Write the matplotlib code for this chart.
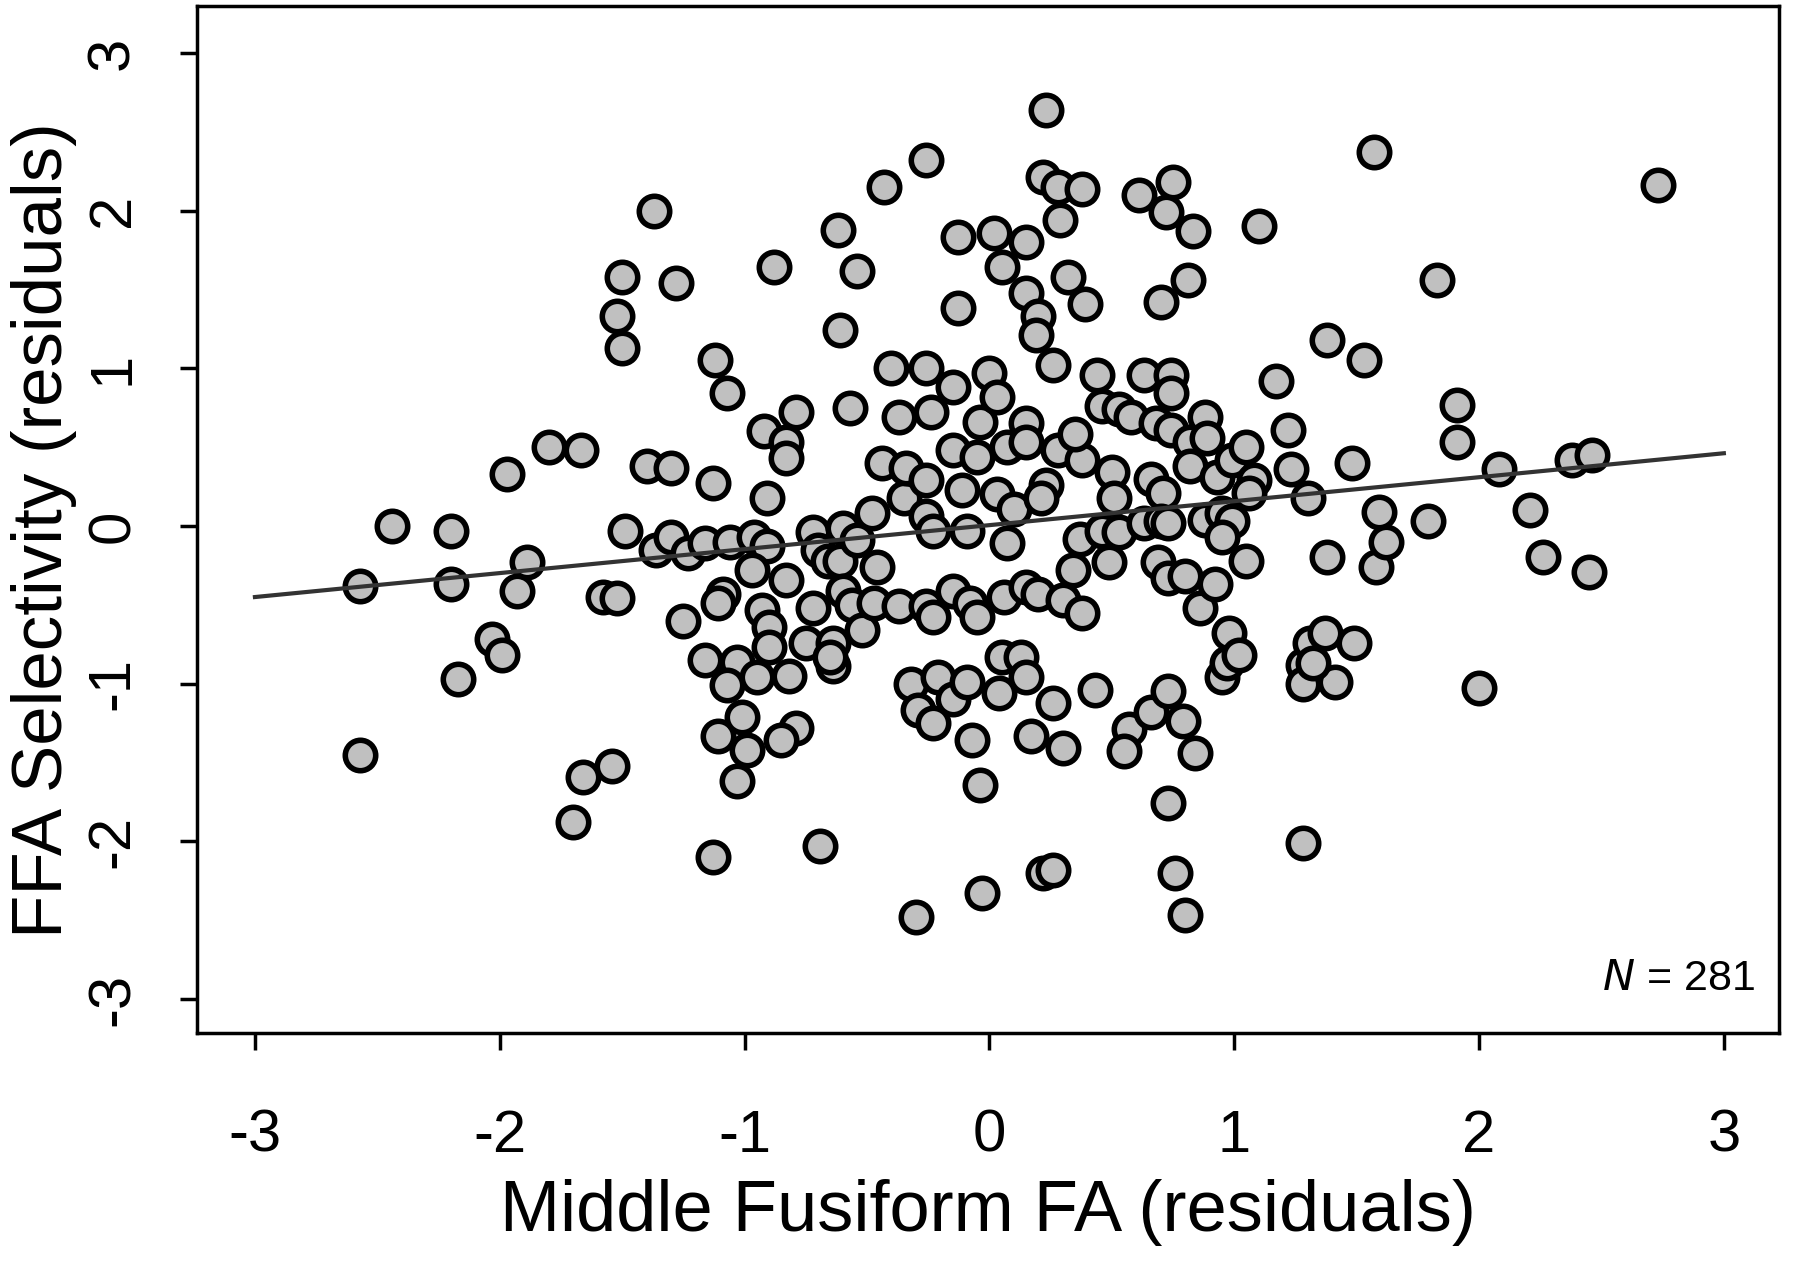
import numpy as np
import matplotlib
matplotlib.use("Agg")
import matplotlib.pyplot as plt

plt.rcParams["font.family"] = ["Liberation Sans", "DejaVu Sans"]

# residuals (x = Middle Fusiform FA, y = FFA selectivity)
fa_resid = [
    -2.57, -2.44, -2.57, -2.20, -2.20, -2.17, -2.03, -1.99, -1.97, -1.93,
    -1.89, -1.80, -1.67, -1.70, -1.66, -1.58, -1.52, -1.54, -1.49, -1.52,
    -1.50, -1.50, -1.37, -1.40, -1.30, -1.28, -1.36, -1.30, -1.23, -1.16,
    -1.25,
    -1.12, -1.13, -1.07, -1.16, -1.09, -1.11, -1.11, -1.13, -1.03, -0.95,
    -1.07, -1.01, -0.99, -1.03, -1.06, -0.96, -0.91, -0.97, -0.93, -0.90,
    -0.90, -0.92, -0.91, -0.88, -0.83, -0.83, -0.79, -0.83, -0.82, -0.79,
    -0.85,
    -0.75, -0.72, -0.72, -0.70, -0.66, -0.61, -0.69, -0.64, -0.64, -0.65,
    -0.62, -0.61, -0.57, -0.54, -0.60, -0.54, -0.60, -0.56, -0.52, -0.48,
    -0.47, -0.46, -0.43, -0.44, -0.40,
    -0.37, -0.35, -0.34, -0.37, -0.32, -0.29, -0.30, -0.26, -0.26, -0.24,
    -0.26, -0.26, -0.23, -0.26, -0.23, -0.21, -0.23, -0.15, -0.13, -0.13,
    -0.15, -0.11, -0.15, -0.15, -0.09, -0.08, -0.09, -0.07, -0.05, -0.05,
    -0.04, -0.04, -0.03, 0.00,
    0.02, 0.05, 0.03, 0.03, 0.07, 0.07, 0.10, 0.06, 0.15, 0.20,
    0.05, 0.13, 0.04, 0.15, 0.15, 0.15, 0.15, 0.15, 0.20, 0.19,
    0.26, 0.17, 0.22, 0.23, 0.28, 0.38, 0.29, 0.32, 0.39, 0.23,
    0.21, 0.28, 0.38, 0.35, 0.30, 0.26, 0.30, 0.22, 0.26, 0.34,
    0.37, 0.38,
    0.44, 0.46, 0.53, 0.58, 0.50, 0.51, 0.46, 0.53, 0.49, 0.43,
    0.57, 0.55, 0.63, 0.61, 0.66, 0.71, 0.68, 0.63, 0.70, 0.73,
    0.69, 0.73, 0.66, 0.73, 0.72, 0.75, 0.70, 0.74, 0.74, 0.74,
    0.73, 0.76, 0.79, 0.80, 0.80,
    0.83, 0.81, 0.82, 0.82, 0.84, 0.86, 0.88, 0.89, 0.88, 0.93,
    0.95, 0.99, 0.95, 0.92, 0.95, 0.97, 0.98, 1.02, 0.99, 1.05,
    1.08, 1.06, 1.05, 1.10, 1.17,
    1.22, 1.23, 1.30, 1.28, 1.28, 1.31, 1.37, 1.28, 1.38, 1.38,
    1.41, 1.48, 1.49, 1.53, 1.57, 1.59, 1.58, 1.62, 1.79, 1.83,
    1.91, 1.91, 2.00, 2.08, 2.21, 2.26, 2.38, 2.46, 2.45, 2.73,
    1.32,
]
ffa_resid = [
    -0.38, 0.00, -1.45, -0.03, -0.37, -0.97, -0.72, -0.82, 0.33, -0.41,
    -0.23, 0.50, 0.48, -1.88, -1.59, -0.45, -0.46, -1.52, -0.03, 1.33,
    1.58, 1.13, 2.00, 0.38, 0.37, 1.54, -0.15, -0.07, -0.17, -0.11,
    -0.60,
    1.05, 0.27, 0.84, -0.85, -0.43, -0.49, -1.33, -2.10, -0.86, -0.96,
    -1.01, -1.21, -1.42, -1.62, -0.10, -0.07, -0.13, -0.28, -0.53, -0.64,
    -0.77, 0.60, 0.18, 1.64, 0.53, 0.43, 0.72, -0.34, -0.95, -1.28,
    -1.36,
    -0.74, -0.52, -0.04, -0.15, -0.22, -0.22, -2.03, -0.89, -0.74, -0.83,
    1.88, 1.24, 0.75, 1.62, -0.01, -0.09, -0.41, -0.50, -0.66, 0.08,
    -0.49, -0.26, 2.15, 0.40, 1.00,
    0.69, 0.18, 0.37, -0.51, -1.00, -1.17, -2.48, 2.32, 1.00, 0.72,
    0.29, 0.06, -0.03, -0.51, -0.58, -0.96, -1.25, 0.88, 1.83, 1.38,
    0.48, 0.23, -0.41, -1.10, -0.03, -0.49, -0.99, -1.36, 0.44, -0.58,
    0.66, -1.64, -2.33, 0.97,
    1.86, 1.64, 0.82, 0.20, 0.50, -0.11, 0.11, -0.45, -0.39, -0.43,
    -0.83, -0.83, -1.06, -0.96, 0.65, 0.53, 1.80, 1.48, 1.33, 1.21,
    1.02, -1.33, 2.21, 2.64, 2.15, 2.14, 1.94, 1.58, 1.41, 0.26,
    0.18, 0.48, 0.42, 0.58, -0.47, -1.12, -1.41, -2.20, -2.18, -0.28,
    -0.08, -0.55,
    0.96, 0.76, 0.74, 0.69, 0.34, 0.18, -0.03, -0.04, -0.23, -1.04,
    -1.29, -1.43, 0.96, 2.10, 0.30, 0.21, 0.65, 0.02, 0.03, 0.02,
    -0.23, -0.33, -1.18, -1.05, 1.99, 2.18, 1.42, 0.96, 0.84, 0.61,
    -1.76, -2.20, -1.24, -2.47, -0.32,
    1.87, 1.56, 0.53, 0.38, -1.44, -0.52, 0.69, 0.56, 0.04, 0.31,
    0.08, 0.03, -0.07, -0.37, -0.96, -0.87, -0.68, -0.82, 0.42, 0.50,
    0.29, 0.21, -0.22, 1.90, 0.92,
    0.61, 0.36, 0.18, -0.88, -1.00, -0.74, -0.68, -2.01, 1.18, -0.20,
    -0.99, 0.40, -0.74, 1.05, 2.37, 0.09, -0.26, -0.10, 0.03, 1.56,
    0.77, 0.53, -1.03, 0.36, 0.10, -0.20, 0.42, 0.45, -0.29, 2.16,
    -0.87,
]

# fitted regression line
fit_intercept = 0.005
fit_slope = 0.152
n_label = "281"

ticks = [-3, -2, -1, 0, 1, 2, 3]

fig = plt.figure(figsize=(18, 12.65), dpi=100)
ax = fig.add_axes([0.1094, 0.1834, 0.8789, 0.8119])

ax.scatter(fa_resid, ffa_resid, s=480, facecolor="#c0c0c0",
           edgecolor="black", linewidths=4.0, zorder=2)

line_x = np.array([ticks[0], ticks[-1]])
ax.plot(line_x, fit_intercept + fit_slope * line_x, color="#333333",
        linewidth=3.0, zorder=3)

ax.set_xlim(-3.237, 3.225)
ax.set_ylim(-3.216, 3.298)
ax.set_xticks(ticks)
ax.set_yticks(ticks)
ax.set_xticklabels([str(t) for t in ticks])
ax.set_yticklabels([str(t) for t in ticks], rotation=90, va="center")

for sp in ax.spines.values():
    sp.set_linewidth(2.5)
ax.tick_params(axis="both", direction="out", length=12.5, width=2.5,
               labelsize=43)
ax.tick_params(axis="x", pad=42)
ax.tick_params(axis="y", pad=28)

ax.set_xlabel("Middle Fusiform FA (residuals)", fontsize=52, va="center")
ax.xaxis.set_label_coords(0.5, -0.175)
ax.set_ylabel("FFA Selectivity (residuals)", fontsize=51, va="center")
ax.yaxis.set_label_coords(-0.0967, 0.49)

ax.text(0.985, 0.033, r"$\it{N}$ = " + n_label, transform=ax.transAxes,
        ha="right", va="bottom", fontsize=31)

fig.savefig("out.png", dpi=100)
